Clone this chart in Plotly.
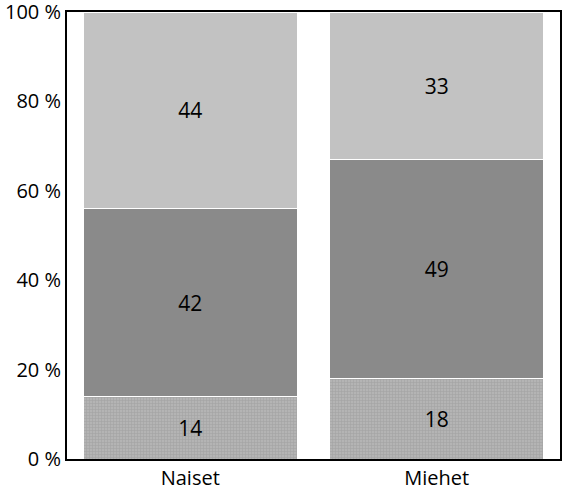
import plotly.graph_objects as go

categories = ["Naiset", "Miehet"]
bottom_vals = [14, 18]
middle_vals = [42, 49]
top_vals = [44, 33]
y_ticks = [0, 20, 40, 60, 80, 100]
y_tick_labels = ["0 %", "20 %", "40 %", "60 %", "80 %", "100 %"]

FONT = "Open Sans"

fig = go.Figure()

# bottom segment has a fine grid texture in the original
fig.add_trace(go.Bar(
    x=categories,
    y=bottom_vals,
    text=[str(v) for v in bottom_vals],
    textposition="inside",
    insidetextanchor="middle",
    textfont=dict(family=FONT, size=21, color="black"),
    marker=dict(
        color="#b4b4b4",
        line=dict(color="white", width=1),
        pattern=dict(shape="+", size=3, solidity=0.3, fgcolor="#8c8c8c", bgcolor="#b4b4b4"),
    ),
    width=0.87,
    showlegend=False,
))
for vals, color in [(middle_vals, "#8a8a8a"), (top_vals, "#c2c2c2")]:
    fig.add_trace(go.Bar(
        x=categories,
        y=vals,
        text=[str(v) for v in vals],
        textposition="inside",
        insidetextanchor="middle",
        textfont=dict(family=FONT, size=21, color="black"),
        marker=dict(color=color, line=dict(color="white", width=1)),
        width=0.87,
        showlegend=False,
    ))

fig.update_layout(
    barmode="stack",
    width=564,
    height=490,
    margin=dict(l=67, r=4, t=12, b=31),
    paper_bgcolor="white",
    plot_bgcolor="white",
    font=dict(family=FONT, size=21, color="black"),
    uniformtext=dict(mode="show", minsize=21),
)
fig.update_xaxes(
    showline=True, linecolor="black", linewidth=2, mirror=True,
    ticks="", tickfont=dict(size=20), automargin=False,
)
fig.update_yaxes(
    range=[0, 100], tickvals=y_ticks, ticktext=y_tick_labels,
    showgrid=False, zeroline=False,
    showline=True, linecolor="black", linewidth=2, mirror=True,
    ticks="", tickfont=dict(size=20), automargin=False,
    ticklabeloverflow="allow",
)

# drop the default page margin so the figure sits at the window's corner
fig.write_html(
    "out.html",
    config={"displayModeBar": False},
    post_script="document.body.style.margin = '0';",
)
